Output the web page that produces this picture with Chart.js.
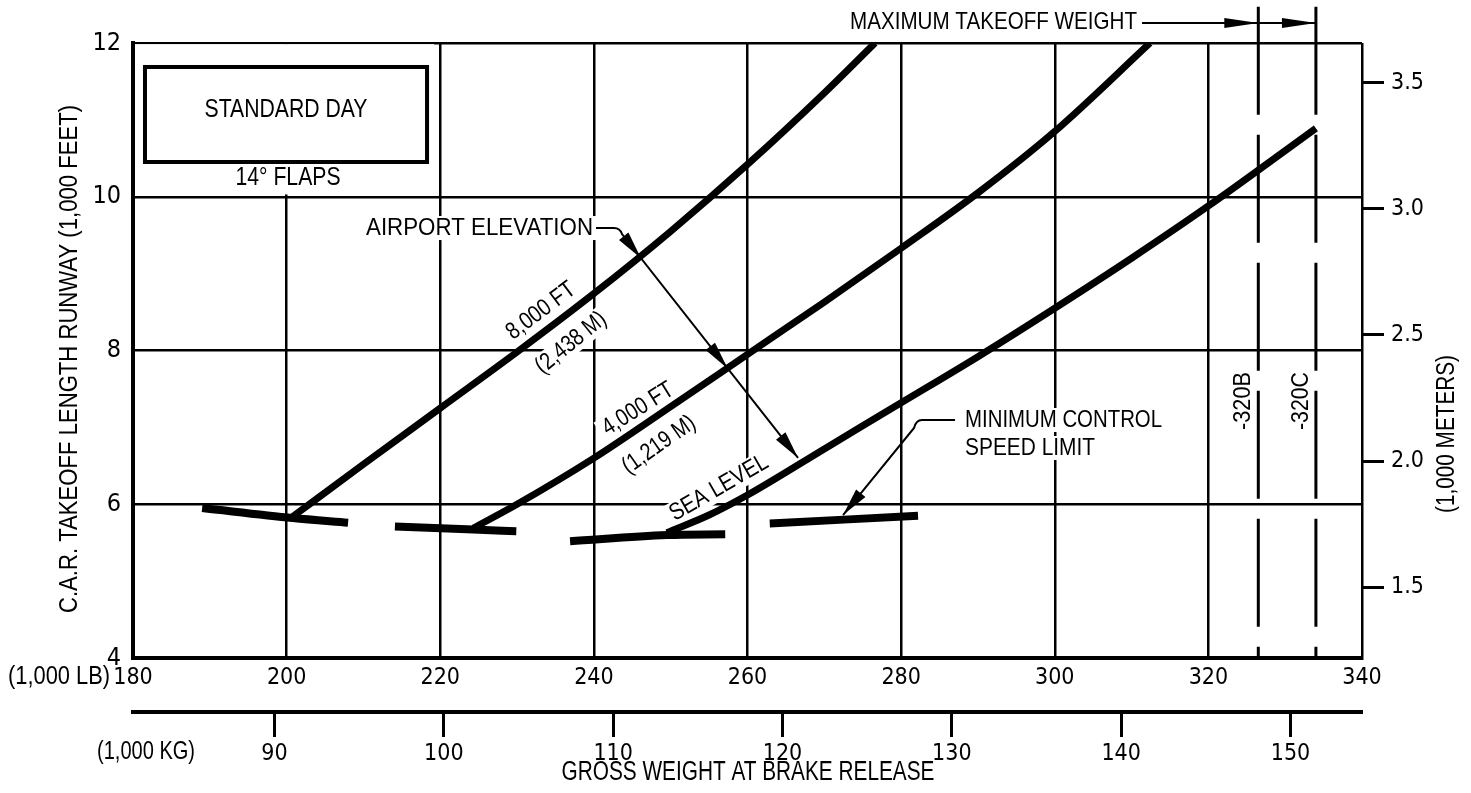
<!DOCTYPE html>
<html><head><meta charset="utf-8">
<script src="https://cdn.jsdelivr.net/npm/chart.js@4.4.0/dist/chart.umd.min.js"></script>
<style>html,body{margin:0;padding:0;background:#fff}canvas{display:block}</style>
</head><body>
<canvas id="c" width="1471" height="793"></canvas>
<script>
// ---------- DATA ----------
const xTicksLb = [180, 200, 220, 240, 260, 280, 300, 320, 340];
const xTicksKg = [90, 100, 110, 120, 130, 140, 150];
const yTicksFt = [4, 6, 8, 10, 12];
const yTicksM = [1.5, 2.0, 2.5, 3.0, 3.5];

// Airport elevation curves: gross weight (1,000 lb) vs runway length (1,000 ft)
const elev8000X = [200.8, 210, 220, 230, 240, 250, 260, 270, 276.6];
const elev8000Y = [5.84, 6.52, 7.25, 7.98, 8.74, 9.55, 10.42, 11.35, 12.0];
const elev4000X = [224.3, 230, 240, 250, 260, 270, 280, 290, 300, 312.4];
const elev4000Y = [5.69, 6.0, 6.60, 7.27, 7.95, 8.63, 9.33, 10.05, 10.85, 12.0];
const seaLevelX = [249.5, 255, 260, 270, 280, 290, 300, 310, 320, 334.0];
const seaLevelY = [5.63, 5.86, 6.12, 6.72, 7.32, 7.92, 8.55, 9.2, 9.88, 10.89];

// Minimum control speed limit (drawn as four separate strokes)
const mcs1X = [189.0, 200.8, 208.0];  const mcs1Y = [5.95, 5.82, 5.76];
const mcs2X = [214.1, 224.3, 229.9];  const mcs2Y = [5.71, 5.67, 5.65];
const mcs3X = [236.9, 249.5, 257.1];  const mcs3Y = [5.52, 5.60, 5.61];
const mcs4X = [262.9, 282.2];         const mcs4Y = [5.75, 5.85];

// Maximum takeoff weight (1,000 lb) per model
const mtowLabels = ['-320B', '-320C'];
const mtowX = [326.5, 334.0];
const mtowSpanY = [12.47, 4];

const LB_PER_KG = 2.20462;
const M_PER_FT = 0.3048;

// ---------- helpers ----------
const pts = (xs, ys) => xs.map((x, i) => ({ x, y: ys[i] }));
const TFONT = '"DejaVu Sans Condensed", "Liberation Sans", sans-serif';
const AFONT = '"Liberation Sans", Arial, sans-serif';

function curve(xs, ys, w) {
  return { data: pts(xs, ys), borderColor: '#000', borderWidth: w, pointRadius: 0,
    fill: false, cubicInterpolationMode: 'monotone', borderCapStyle: 'butt', borderJoinStyle: 'round' };
}
function vline(i) {
  return { data: mtowSpanY.map(y => ({ x: mtowX[i], y })), borderColor: '#000', borderWidth: 3,
    pointRadius: 0, fill: false, borderDash: [108, 20], clip: false };
}

// draws condensed text: size = font px, width = target length of the string
function txt(ctx, text, x, y, ang, size, width, mask, align) {
  ctx.save();
  ctx.font = size + 'px ' + AFONT;
  const w0 = ctx.measureText(text).width;
  const sx = width ? width / w0 : 0.82;
  ctx.translate(x, y);
  ctx.rotate(ang * Math.PI / 180);
  ctx.scale(sx, 1);
  ctx.textAlign = align || 'center';
  ctx.textBaseline = 'middle';
  if (mask) {
    ctx.fillStyle = '#fff';
    const pad = 5 / sx;
    const x0 = (align === 'left') ? -pad : (align === 'right' ? -w0 - pad : -w0 / 2 - pad);
    ctx.fillRect(x0, -size * 0.5, w0 + 2 * pad, size * 1.0);
  }
  ctx.fillStyle = '#000';
  ctx.fillText(text, 0, 0);
  ctx.restore();
}
function head(ctx, tx, ty, ang, len, half) {
  const c = Math.cos(ang), s = Math.sin(ang);
  ctx.beginPath();
  ctx.moveTo(tx, ty);
  ctx.lineTo(tx - len * c + half * s, ty - len * s - half * c);
  ctx.lineTo(tx - len * c - half * s, ty - len * s + half * c);
  ctx.closePath();
  ctx.fill();
}

// annotation anchors (data units: x = 1,000 lb, y = 1,000 ft)
const notes = {
  boxTL: [181.56, 11.688], boxBR: [218.28, 10.452],
  maskTL: [180.26, 11.985], maskBR: [220.0, 10.03],
  stdDay: [199.92, 11.128], flaps: [200.18, 10.244],
  airport: [225.11, 9.593],
  elevPath: [[240.28, 9.593], [242.62, 9.593], [243.66, 9.515], [266.58, 6.602]],
  elevHeads: [0.108, 0.60, 1.0],
  lbl8000: [233.12, 8.514, -37], lbl2438: [237.03, 8.098, -39],
  lbl4000: [245.75, 7.239, -32], lbl1219: [248.48, 6.771, -35],
  lblSea: [256.29, 6.211, -30],
  mcsText1: [288.32, 7.096], mcsText2: [288.32, 6.732],
  mcsPath: [[287.02, 7.096], [282.72, 7.096], [281.68, 6.992], [272.44, 5.86]],
  mtowText: [310.71, 12.273], mtowArrowStart: [311.36, 12.26],
  mtowLblY: 7.343, mtowLblDx: -1.95
};

const annot = {
  id: 'annot',
  beforeDatasetsDraw(chart) {
    const ctx = chart.ctx, xs = chart.scales.x, ys = chart.scales.y;
    const P = (a) => [xs.getPixelForValue(a[0]), ys.getPixelForValue(a[1])];
    ctx.save();
    // white area around the STANDARD DAY box
    const m1 = P(notes.maskTL), m2 = P(notes.maskBR);
    ctx.fillStyle = '#fff';
    ctx.fillRect(m1[0], m1[1], m2[0] - m1[0] - 6, m2[1] - m1[1]);
    const b1 = P(notes.boxTL), b2 = P(notes.boxBR);
    ctx.strokeStyle = '#000'; ctx.lineWidth = 4;
    ctx.strokeRect(b1[0], b1[1], b2[0] - b1[0], b2[1] - b1[1]);
    let p = P(notes.stdDay); txt(ctx, 'STANDARD DAY', p[0], p[1], 0, 25, 163, false);
    p = P(notes.flaps); txt(ctx, '14° FLAPS', p[0], p[1], 0, 25, 105, true);
    p = P(notes.airport); txt(ctx, 'AIRPORT ELEVATION', p[0], p[1], 0, 24, 227, true);
    const rl = (a, t, w) => { const q = P(a); txt(ctx, t, q[0], q[1], a[2], 24, w, true); };
    rl(notes.lbl8000, '8,000 FT', 80);
    rl(notes.lbl2438, '(2,438 M)', 84);
    rl(notes.lbl4000, '4,000 FT', 80);
    rl(notes.lbl1219, '(1,219 M)', 84);
    rl(notes.lblSea, 'SEA LEVEL', 110);
    p = P(notes.mcsText1); txt(ctx, 'MINIMUM CONTROL', p[0], p[1], 0, 24, 197, true, 'left');
    p = P(notes.mcsText2); txt(ctx, 'SPEED LIMIT', p[0], p[1], 0, 24, 130, true, 'left');
    mtowX.forEach((mx, i) => {
      const q = P([mx + notes.mtowLblDx, notes.mtowLblY]);
      txt(ctx, mtowLabels[i], q[0], q[1], -90, 24, 58, false);
    });
    ctx.restore();
  },
  afterDatasetsDraw(chart) {
    const ctx = chart.ctx, xs = chart.scales.x, ys = chart.scales.y;
    const P = (a) => [xs.getPixelForValue(a[0]), ys.getPixelForValue(a[1])];
    ctx.save();
    ctx.strokeStyle = '#000'; ctx.fillStyle = '#000'; ctx.lineWidth = 2;
    // airport elevation leader
    let pp = notes.elevPath.map(P);
    ctx.beginPath();
    ctx.moveTo(pp[0][0], pp[0][1]); ctx.lineTo(pp[1][0], pp[1][1]);
    ctx.quadraticCurveTo(pp[1][0] + 6, pp[1][1], pp[2][0], pp[2][1]);
    ctx.lineTo(pp[3][0], pp[3][1]);
    ctx.stroke();
    let ang = Math.atan2(pp[3][1] - pp[2][1], pp[3][0] - pp[2][0]);
    notes.elevHeads.forEach(t => {
      head(ctx, pp[2][0] + t * (pp[3][0] - pp[2][0]), pp[2][1] + t * (pp[3][1] - pp[2][1]), ang, 28, 6);
    });
    // minimum control speed leader
    pp = notes.mcsPath.map(P);
    ctx.beginPath();
    ctx.moveTo(pp[0][0], pp[0][1]); ctx.lineTo(pp[1][0], pp[1][1]);
    ctx.quadraticCurveTo(pp[1][0] - 6, pp[1][1], pp[2][0], pp[2][1]);
    ctx.lineTo(pp[3][0], pp[3][1]);
    ctx.stroke();
    ang = Math.atan2(pp[3][1] - pp[2][1], pp[3][0] - pp[2][0]);
    head(ctx, pp[3][0], pp[3][1], ang, 28, 6);
    // maximum takeoff weight
    let p = P(notes.mtowText);
    txt(ctx, 'MAXIMUM TAKEOFF WEIGHT', p[0], p[1], 0, 24, 287, false, 'right');
    const s = P(notes.mtowArrowStart);
    let x0 = s[0];
    mtowX.forEach(mx => {
      const xe = xs.getPixelForValue(mx);
      ctx.beginPath(); ctx.moveTo(x0, s[1]); ctx.lineTo(xe, s[1]); ctx.stroke();
      head(ctx, xe, s[1], 0, 34, 5);
      x0 = xe;
    });
    // outer titles
    txt(ctx, 'C.A.R. TAKEOFF LENGTH RUNWAY (1,000 FEET)', 70, 359, -90, 25, 508, false);
    txt(ctx, '(1,000 METERS)', 1447, 434, -90, 25, 158, false);
    txt(ctx, 'GROSS WEIGHT AT BRAKE RELEASE', 748, 773, 0, 27, 373, false);
    txt(ctx, '(1,000 LB)', 59, 677, 0, 25, 102, false);
    txt(ctx, '(1,000 KG)', 146, 752, 0, 25, 98, false);
    ctx.restore();
  }
};

const tickFont = { family: TFONT, size: 23 };
const setTicks = (arr) => (scale) => { scale.ticks = arr.map(v => ({ value: v })); };

new Chart(document.getElementById('c'), {
  type: 'line',
  data: {
    datasets: [
      curve(elev8000X, elev8000Y, 7),
      curve(elev4000X, elev4000Y, 7),
      curve(seaLevelX, seaLevelY, 7),
      curve(mcs1X, mcs1Y, 8),
      curve(mcs2X, mcs2Y, 8),
      curve(mcs3X, mcs3Y, 8),
      curve(mcs4X, mcs4Y, 8),
      vline(0),
      vline(1)
    ]
  },
  options: {
    responsive: false,
    animation: false,
    layout: { padding: { top: 43, left: 0, right: 0, bottom: 0 } },
    plugins: { legend: { display: false }, tooltip: { enabled: false } },
    scales: {
      x: {
        type: 'linear', position: 'bottom', min: 180, max: 340, weight: 0,
        afterBuildTicks: setTicks(xTicksLb),
        ticks: { font: tickFont, color: '#000', padding: 6, maxRotation: 0, autoSkip: false },
        grid: { color: '#000', lineWidth: 2.5, drawTicks: false },
        border: { display: true, color: '#000', width: 4 },
        afterFit: (s) => { s.height = 54; }
      },
      x2: {
        type: 'linear', position: 'bottom', min: 180 / LB_PER_KG, max: 340 / LB_PER_KG, weight: 1,
        afterBuildTicks: setTicks(xTicksKg),
        ticks: { font: tickFont, color: '#000', padding: 3, maxRotation: 0, autoSkip: false },
        grid: { drawOnChartArea: false, drawTicks: true, tickLength: 25, tickWidth: 3, tickColor: '#000', color: '#000' },
        border: { display: true, color: '#000', width: 4 },
        afterFit: (s) => { s.height = 81; }
      },
      y: {
        type: 'linear', position: 'left', min: 4, max: 12,
        afterBuildTicks: setTicks(yTicksFt),
        ticks: { font: { family: TFONT, size: 25 }, color: '#000', padding: 12 },
        grid: { color: '#000', lineWidth: 2.5, drawTicks: false },
        border: { display: true, color: '#000', width: 4 },
        afterFit: (s) => { s.width = 133; }
      },
      y2: {
        type: 'linear', position: 'right', min: 4 * M_PER_FT, max: 12 * M_PER_FT,
        afterBuildTicks: setTicks(yTicksM),
        ticks: { font: tickFont, color: '#000', padding: 7, callback: (v) => v.toFixed(1) },
        grid: { drawOnChartArea: false, drawTicks: true, tickLength: 22, tickWidth: 3, tickColor: '#000' },
        border: { display: false },
        afterFit: (s) => { s.width = 109; }
      }
    }
  },
  plugins: [annot]
});
</script>
</body></html>
